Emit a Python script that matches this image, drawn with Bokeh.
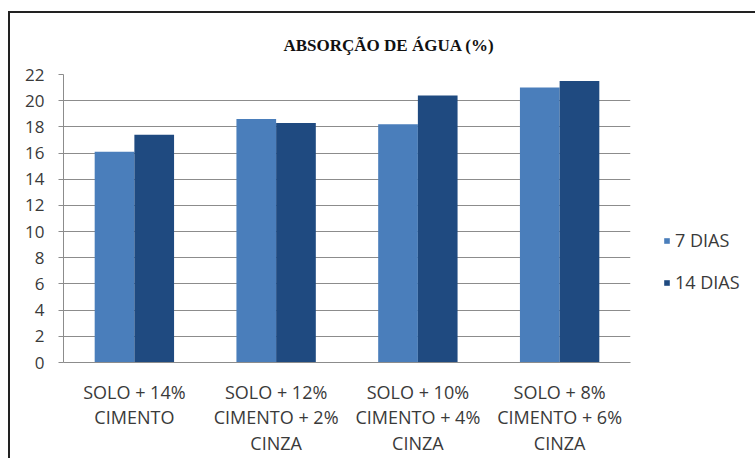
from bokeh.plotting import figure
from bokeh.layouts import column
from bokeh.models import (ColumnDataSource, FactorRange, FixedTicker, Legend, LegendItem)
from bokeh.transform import dodge
from bokeh.embed import file_html
from bokeh.resources import INLINE

categories = ["SOLO + 14%\nCIMENTO",
              "SOLO + 12%\nCIMENTO + 2%\nCINZA",
              "SOLO + 10%\nCIMENTO + 4%\nCINZA",
              "SOLO + 8%\nCIMENTO + 6%\nCINZA"]
dias7 = [16.1, 18.6, 18.2, 21.0]
dias14 = [17.4, 18.3, 20.4, 21.5]
series_names = ["7 DIAS", "14 DIAS"]
y_ticks = list(range(0, 23, 2))
title_text = "ABSORÇÃO DE ÁGUA (%)"

src = ColumnDataSource(dict(cat=categories, d7=dias7, d14=dias14))

FONT = "Open Sans"
TXT = "#3a3a3a"
p = figure(x_range=FactorRange(*categories, range_padding=0), y_range=(0, 22),
           frame_width=567, frame_height=288, output_backend="svg", toolbar_location=None,
           min_border_left=53, min_border_right=120, min_border_top=61, min_border_bottom=96)
p.outline_line_color = None
p.background_fill_color = "white"
p.border_fill_color = "white"

r7 = p.vbar(x=dodge("cat", -0.14, range=p.x_range), top="d7", width=0.28, source=src,
            fill_color="#4a7ebb", line_color=None)
r14 = p.vbar(x=dodge("cat", 0.14, range=p.x_range), top="d14", width=0.28, source=src,
             fill_color="#1f4a80", line_color=None)

p.xgrid.grid_line_color = None
p.ygrid.grid_line_color = "#8c8c8c"
p.ygrid.grid_line_width = 1
p.yaxis.ticker = FixedTicker(ticks=y_ticks)
p.yaxis.axis_line_color = "#8c8c8c"
p.yaxis.major_tick_line_color = "#8c8c8c"
p.yaxis.major_tick_out = 5
p.yaxis.major_tick_in = 0
p.yaxis.minor_tick_line_color = None
p.yaxis.major_label_text_font = FONT
p.yaxis.major_label_text_font_size = "17px"
p.yaxis.major_label_text_color = TXT
p.yaxis.major_label_standoff = 14

p.xaxis.axis_line_color = "#8c8c8c"
p.xaxis.major_tick_line_color = None
p.xaxis.major_label_text_font = FONT
p.xaxis.major_label_text_font_size = "18px"
p.xaxis.major_label_text_color = TXT
p.xaxis.major_label_text_line_height = 1.07
p.xaxis.major_label_standoff = 11
p.xaxis.major_label_orientation = "horizontal"

legend = Legend(items=[LegendItem(label=series_names[0], renderers=[r7]),
                       LegendItem(label=series_names[1], renderers=[r14])],
                location=(33, 68), orientation="vertical",
                glyph_width=7, glyph_height=7, label_standoff=5, spacing=18,
                padding=0, margin=0, border_line_color=None, background_fill_alpha=0,
                label_text_font=FONT, label_text_font_size="18px", label_text_color=TXT)
p.add_layout(legend, "right")

p.title.text = title_text
p.title.text_font = "Liberation Serif"
p.title.text_font_style = "bold"
p.title.text_font_size = "17px"
p.title.text_color = "#111111"
p.title.align = "left"
p.title.offset = 220
p.title.standoff = 40

page = column(p, styles={"margin-left": "8px", "margin-top": "11px",
                         "padding-left": "2px", "padding-top": "2px",
                         "box-shadow": "inset 2px 2px 0 0 #222222"})

open("out.html", "w").write(file_html(page, INLINE))
